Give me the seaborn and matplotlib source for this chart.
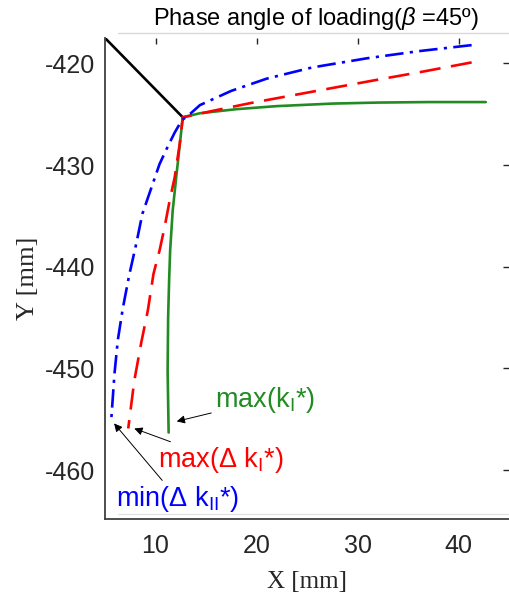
import matplotlib
matplotlib.use("Agg")
import matplotlib.pyplot as plt
from matplotlib.lines import Line2D
import seaborn as sns

# Crack path coordinates (X, Y in mm) for each criterion
black_x = [5.0, 12.7]
black_y = [-417.5, -425.3]

green_x = [42.7, 37.0, 32.0, 27.5, 22.0, 18.0, 14.4, 12.7, 12.05, 11.7, 11.45, 11.35, 11.25, 11.2, 11.3]
green_y = [-423.8, -423.8, -423.85, -423.95, -424.2, -424.5, -424.9, -425.3, -431.2, -434.5,
           -438.4, -441.3, -445.0, -450.2, -456.3]

red_x = [41.3, 36.5, 32.0, 27.6, 23.5, 19.4, 15.5, 12.7, 12.4, 11.9, 11.4, 10.9, 10.4, 9.8,
         9.24, 8.6, 7.9, 7.3]
red_y = [-419.9, -420.8, -421.6, -422.4, -423.15, -423.9, -424.7, -425.3, -427.9, -431.2,
         -433.5, -436.1, -438.4, -440.7, -444.3, -447.4, -451.2, -455.9]

blue_x = [41.3, 36.0, 30.9, 25.5, 21.0, 17.5, 15.5, 14.4, 13.5, 12.6, 11.9, 11.2, 10.4, 9.6,
          8.7, 8.1, 7.4, 6.76, 6.27, 5.94, 5.6]
blue_y = [-418.2, -418.8, -419.5, -420.4, -421.5, -422.7, -423.6, -424.1, -424.9, -425.6,
          -426.8, -428.2, -429.9, -432.2, -434.8, -437.7, -440.8, -444.1, -447.2, -450.5, -455.3]

x_ticks = [10, 20, 30, 40]
y_ticks = [-460, -450, -440, -430, -420]

sns.set_theme(style="white")
plt.rcParams["font.family"] = ["Liberation Sans", "DejaVu Sans"]
plt.rcParams["axes.unicode_minus"] = False
plt.rcParams["mathtext.fontset"] = "custom"
plt.rcParams["mathtext.rm"] = "Liberation Sans"
plt.rcParams["mathtext.it"] = "Liberation Sans:italic"

fig = plt.figure(figsize=(5.09, 5.99), dpi=100)
ax = fig.add_axes([105 / 509, 80 / 599, 404 / 509, 481 / 599])

GREEN = "#228B22"
lw = 1.9

sns.lineplot(x=black_x, y=black_y, sort=False, estimator=None, color="black", lw=lw, ax=ax)
sns.lineplot(x=green_x, y=green_y, sort=False, estimator=None, color=GREEN, lw=lw, ax=ax)
sns.lineplot(x=red_x, y=red_y, sort=False, estimator=None, color="red", lw=lw,
             linestyle=(0, (8, 4)), ax=ax)
sns.lineplot(x=blue_x, y=blue_y, sort=False, estimator=None, color="blue", lw=lw,
             linestyle=(0, (7, 2.4, 1.2, 2.4)), ax=ax)

ax.set_xlim(5, 45)
ax.set_ylim(-464.8, -417.5)
ax.set_xticks(x_ticks)
ax.set_yticks(y_ticks)

ax.tick_params(axis="both", which="both", direction="in", top=True, right=True,
               length=4, width=1, color="#262626", labelsize=18, labelcolor="#262626")
ax.tick_params(axis="x", pad=11)
ax.tick_params(axis="y", pad=7)

for side in ("top", "right"):
    ax.spines[side].set_visible(False)
for side in ("left", "bottom"):
    ax.spines[side].set_color("#404040")
    ax.spines[side].set_linewidth(1.3)

ax.set_xlabel("X [mm]", fontfamily="Liberation Serif", fontsize=18, color="#262626", labelpad=9)
ax.set_ylabel("Y [mm]", fontfamily="Liberation Serif", fontsize=19, color="#262626", labelpad=4)

fig.text(316 / 509, 1 - 19 / 599, r"Phase angle of loading($\beta$ =45º)",
         ha="center", va="center", fontsize=17, color="black")

arrow = dict(arrowstyle="-|>", color="black", lw=0.7, mutation_scale=12, shrinkA=0, shrinkB=0)
ax.annotate(r"max(k$_{\mathrm{I}}$*)", xy=(12.1, -455.2), xytext=(15.85, -453.1),
            ha="left", va="center", fontsize=19.5, color=GREEN, arrowprops=arrow)
ax.annotate(r"max(Δ k$_{\mathrm{I}}$*)", xy=(7.9, -455.9), xytext=(10.2, -459.0),
            ha="left", va="center", fontsize=19.5, color="red", arrowprops=arrow)
ax.annotate(r"min(Δ k$_{\mathrm{II}}$*)", xy=(5.9, -455.4), xytext=(6.1, -462.8),
            ha="left", va="center", fontsize=19.5, color="blue", arrowprops=arrow)

# faint frame lines above and below the plot area
fig.add_artist(Line2D([118 / 509, 1.0], [1 - 32.5 / 599] * 2, color="#d9d9d9", lw=1))
fig.add_artist(Line2D([118 / 509, 1.0], [1 - 514 / 599] * 2, color="#e3e3e3", lw=1))

fig.savefig("out.png", dpi=100)
